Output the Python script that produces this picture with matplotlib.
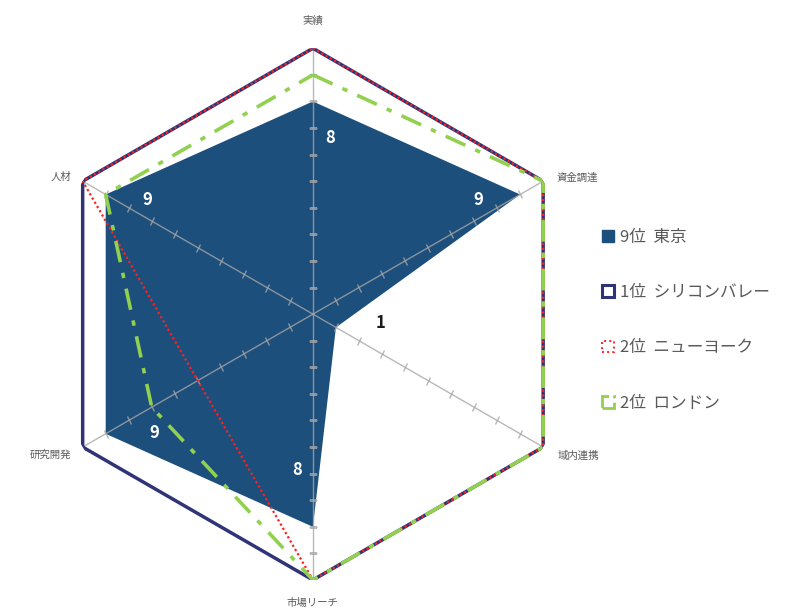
import numpy as np
import matplotlib.pyplot as plt
from matplotlib.markers import MarkerStyle
from matplotlib.transforms import Affine2D
from matplotlib.patches import Patch

plt.rcParams['font.family'] = ['Noto Sans CJK JP', 'DejaVu Sans']

# Axes of the radar, clockwise from the top
categories = ['実績', '資金調達', '域内連携', '市場リーチ', '研究開発', '人材']

# Scores (0-10)
tokyo = [8, 9, 1, 8, 9, 9]
silicon_valley = [10, 10, 10, 10, 10, 10]
new_york = [10, 10, 10, 10, 5, 10]
london = [9, 10, 10, 10, 7, 9]

legend_labels = ['9位  東京', '1位  シリコンバレー', '2位  ニューヨーク', '2位  ロンドン']

# Label offsets (pixels) for the axis names and Tokyo values
label_offsets = [(0, 27), (13, 3), (14, -9), (0, -23), (-11, -8), (-11, 4)]
label_ha = ['center', 'left', 'left', 'center', 'right', 'right']
value_offsets = [(17, -37), (-42, -6), (45, 4), (-16, 57), (49, 1), (42, -6)]

angles = np.deg2rad(np.arange(len(categories)) * 60)


def closed(vals):
    return list(vals) + [vals[0]]


ang_c = closed(angles)

fig = plt.figure(figsize=(7.88, 6.14), dpi=100)
ax = fig.add_axes([0.0596, 0.0554, 0.675, 0.866], projection='polar')
ax.set_theta_offset(np.pi / 2)
ax.set_theta_direction(-1)
ax.set_ylim(0, 10)
ax.set_xticks([])
ax.set_yticks([])
ax.grid(False)
ax.spines['polar'].set_visible(False)
ax.patch.set_visible(False)

# Tokyo filled area
ax.fill(ang_c, closed(tokyo), color='#1d4f7c', zorder=1, lw=0)

# spokes with tick marks
for a in angles:
    ax.plot([a, a], [0, 10], color='#a6a6a6', lw=1, alpha=0.8, zorder=2)
    m = MarkerStyle('_', transform=Affine2D().rotate_deg(-np.rad2deg(a)))
    ax.plot([a] * 10, np.arange(1, 11), ls='none', marker=m, ms=6,
            mew=1, color='#a6a6a6', alpha=0.8, zorder=2)

# other cities
ax.plot(ang_c, closed(silicon_valley), color='#2f3477', lw=2.5, zorder=3,
        solid_joinstyle='miter')
ax.plot(ang_c, closed(new_york), color='#ff2020', lw=1.6, ls=(0, (1, 1.2)), zorder=4)
ax.plot(ang_c, closed(london), color='#92d050', lw=2.6, ls=(0, (6, 3, 1.5, 3)), zorder=5)

# axis names
for a, name, off, ha in zip(angles, categories, label_offsets, label_ha):
    ax.annotate(name, (a, 10), xytext=off, textcoords='offset pixels',
                ha=ha, va='center', fontsize=7.5, color='#595959')

# Tokyo values
for a, v, off in zip(angles, tokyo, value_offsets):
    col = '#1a1a1a' if v == 1 else 'white'
    ax.annotate(str(v), (a, v), xytext=off, textcoords='offset pixels',
                ha='center', va='center', fontsize=12, fontweight='bold', color=col,
                zorder=6)

handles = [
    Patch(facecolor='#1d4f7c', edgecolor='#1d4f7c'),
    Patch(facecolor='white', edgecolor='#2f3477', lw=2.2),
    Patch(facecolor='white', edgecolor='#ff2020', lw=1.4, ls=':'),
    Patch(facecolor='white', edgecolor='#92d050', lw=2.0, ls='-.'),
]
leg = fig.legend(handles, legend_labels, loc='upper left',
                 bbox_to_anchor=(0.745, 0.652), frameon=False,
                 fontsize=12, labelcolor='#595959', handlelength=0.7,
                 handleheight=0.7, handletextpad=0.35, labelspacing=2.3)

fig.savefig('out.png', dpi=100, facecolor='white')
